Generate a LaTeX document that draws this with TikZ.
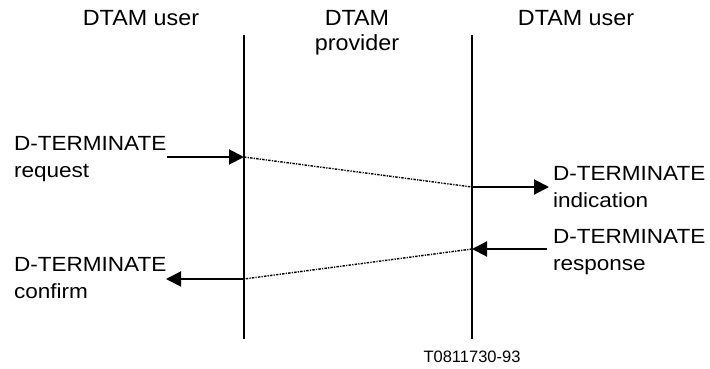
\documentclass[tikz,border=0pt]{standalone}
\usepackage{fontspec}
\setmainfont{Liberation Sans}
\newfontfamily\hdrfont{Liberation Sans}[FakeStretch=1.06]
\newfontfamily\lblfont{Liberation Sans}[FakeStretch=1.1]
\usetikzlibrary{arrows.meta}

\begin{document}
\begin{tikzpicture}[x=1pt,y=-1pt,line width=2pt,
	hdr/.style={align=center,inner sep=0pt,font=\hdrfont\fontsize{22}{25}\selectfont},
	lbl/.style={anchor=north west,align=left,inner sep=0pt,font=\lblfont\fontsize{20.5}{27}\selectfont},
	prim/.style={-{Triangle[length=15pt,width=15pt]},line width=2pt},
	flow/.style={dash pattern=on 2.5pt off 1.2pt on 1.2pt off 1.2pt,line width=1.4pt}]
			\useasboundingbox (0,0) rectangle (710,368);
			% column heads
			\node[hdr,anchor=base] (userA) at (141,25) {DTAM user};
			\node[hdr,anchor=north] (prov) at (357,9.25) {DTAM\\provider};
			\node[hdr,anchor=base] (userB) at (576,25) {DTAM user};
			% time lines
			\coordinate (la) at (244,35);
			\coordinate (lb) at (244,339);
			\coordinate (ra) at (472,35);
			\coordinate (rb) at (472,339);
			\draw (la) -- (lb);
			\draw (ra) -- (rb);
			% primitives
			\node[lbl] (req) at (13,135.3) {D-TERMINATE\\request};
			\node[lbl] (ind) at (552,165.3) {D-TERMINATE\\indication};
			\node[lbl] (rsp) at (552,228.3) {D-TERMINATE\\response};
			\node[lbl] (cnf) at (13,256.3) {D-TERMINATE\\confirm};
			\coordinate (reqA) at (167,157);
			\coordinate (reqB) at (244,157);
			\coordinate (indA) at (472,187);
			\coordinate (indB) at (549,187);
			\coordinate (rspA) at (547,249);
			\coordinate (rspB) at (472,249);
			\coordinate (cnfA) at (244,279);
			\coordinate (cnfB) at (166,279);
			\draw[prim] (reqA) -- (reqB);
			\draw[flow] (reqB) -- (indA);
			\draw[prim] (indA) -- (indB);
			\draw[prim] (rspA) -- (rspB);
			\draw[flow] (rspB) -- (cnfA);
			\draw[prim] (cnfA) -- (cnfB);
			\node[font=\fontsize{16.5}{18}\selectfont,anchor=base] (ref) at (472,362) {T0811730-93};
		\end{tikzpicture}
\end{document}
